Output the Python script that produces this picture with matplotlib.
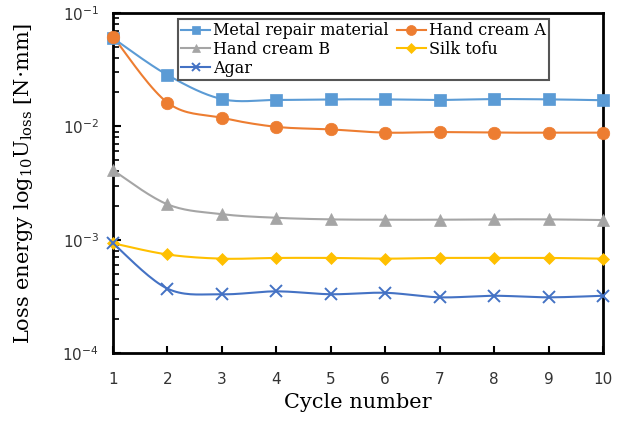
import numpy as np
import matplotlib
matplotlib.use("Agg")
import matplotlib.pyplot as plt
from matplotlib.lines import Line2D
from matplotlib.ticker import LogLocator, NullFormatter

plt.rcParams['mathtext.fontset'] = 'dejavuserif'

# data
cycles = [1, 2, 3, 4, 5, 6, 7, 8, 9, 10]
metal_repair = [0.060, 0.0284, 0.0174, 0.0171, 0.0173, 0.0173, 0.0171, 0.0174, 0.0173, 0.0170]
hand_cream_a = [0.062, 0.0162, 0.0119, 0.0099, 0.0094, 0.0088, 0.0089, 0.0088, 0.0088, 0.0088]
hand_cream_b = [0.0041, 0.00205, 0.00168, 0.00156, 0.00151, 0.00150, 0.00150, 0.00151, 0.00151, 0.00149]
silk_tofu = [0.00093, 0.00074, 0.00068, 0.00069, 0.00069, 0.00068, 0.00069, 0.00069, 0.00069, 0.00068]
agar = [0.00093, 0.00037, 0.00033, 0.00035, 0.00033, 0.00034, 0.00031, 0.00032, 0.00031, 0.00032]

labels = ["Metal repair material", "Hand cream A", "Hand cream B", "Silk tofu", "Agar"]
colors = ["#5B9BD5", "#ED7D31", "#A5A5A5", "#FFC000", "#4472C4"]
markers = ["s", "o", "^", "D", "x"]
msizes = [8, 9, 8, 6, 8]


def smooth(x, y, n=20):
    # Catmull-Rom curve through the points (in log space), like Excel's smoothed lines
    x = np.asarray(x, float)
    y = np.log10(np.asarray(y, float))
    xs, ys = [], []
    for i in range(len(x) - 1):
        p0 = (x[max(i - 1, 0)], y[max(i - 1, 0)])
        p1 = (x[i], y[i])
        p2 = (x[i + 1], y[i + 1])
        p3 = (x[min(i + 2, len(x) - 1)], y[min(i + 2, len(x) - 1)])
        t = np.linspace(0, 1, n)
        for k, (a, b, c, d) in enumerate([(p0[0], p1[0], p2[0], p3[0]), (p0[1], p1[1], p2[1], p3[1])]):
            v = 0.5 * ((2 * b) + (-a + c) * t + (2 * a - 5 * b + 4 * c - d) * t ** 2
                       + (-a + 3 * b - 3 * c + d) * t ** 3)
            (xs if k == 0 else ys).extend(v)
    return np.array(xs), 10 ** np.array(ys)


fig = plt.figure(figsize=(6.25, 4.21), dpi=100)
ax = fig.add_axes([0.1808, 0.1615, 0.784, 0.8076])

series = [metal_repair, hand_cream_a, hand_cream_b, silk_tofu, agar]
handles = []
for vals, lab, col, mk, ms in zip(series, labels, colors, markers, msizes):
    sx, sy = smooth(cycles, vals)
    ax.plot(sx, sy, color=col, lw=1.5, clip_on=False, zorder=2)
    ax.plot(cycles, vals, linestyle="none", marker=mk, ms=ms, color=col,
            mew=1.4 if mk == "x" else 0.5, clip_on=False, zorder=3)
    handles.append(Line2D([], [], color=col, lw=1.5, marker=mk, ms=ms * 0.8,
                          mew=1.4 if mk == "x" else 0.5, label=lab))

ax.set_yscale("log")
ax.set_xlim(1, 10)
ax.set_ylim(1e-4, 1e-1)
ax.set_xticks(cycles)
ax.yaxis.set_major_locator(LogLocator(base=10, numticks=10))
ax.yaxis.set_minor_locator(LogLocator(base=10, subs=np.arange(2, 10), numticks=10))
ax.yaxis.set_minor_formatter(NullFormatter())

ax.tick_params(axis="x", direction="in", length=5, width=1.5, labelsize=11, pad=14,
               labelcolor="#333333")
ax.tick_params(axis="y", which="major", direction="in", length=6, width=1.5,
               labelsize=11, pad=10, labelcolor="#333333")
ax.tick_params(axis="y", which="minor", direction="in", length=4, width=1.2)
for s in ax.spines.values():
    s.set_linewidth(2)
    s.set_color("black")

ax.set_xlabel("Cycle number", family="DejaVu Serif", fontsize=15, labelpad=4)
ax.set_ylabel(r"Loss energy log$_{10}$U$_{\mathrm{loss}}$ [N$\cdot$mm]",
              family="DejaVu Serif", fontsize=15, labelpad=20)

order = [0, 2, 4, 1, 3]
leg = ax.legend([handles[i] for i in order], [labels[i] for i in order], ncol=2,
                loc="upper left", bbox_to_anchor=(0.133, 0.982), fancybox=False,
                framealpha=1, edgecolor="#555555", prop={"family": "DejaVu Serif", "size": 11.5},
                handlelength=1.8, handletextpad=0.2, columnspacing=0.5,
                labelspacing=0.1, borderpad=0.2, borderaxespad=0)
leg.get_frame().set_linewidth(1.5)

fig.savefig("out.png", dpi=100, facecolor="white")
